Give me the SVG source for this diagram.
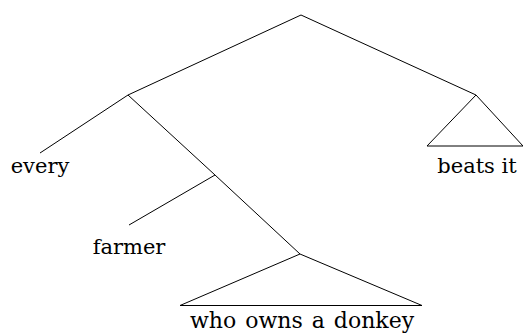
<svg xmlns="http://www.w3.org/2000/svg" width="523" height="336" viewBox="0 0 523 336">
<style>
.e{stroke:#000;stroke-width:1;fill:none}
.t{font-family:"DejaVu Serif",serif;font-size:21px;fill:#000;text-anchor:middle}
</style>
<rect width="523" height="336" fill="#fff"/>
<g id="connectors">
<line class="e" x1="301" y1="15" x2="128" y2="95"/>
<line class="e" x1="301" y1="15" x2="476" y2="95"/>
<line class="e" x1="128" y1="95" x2="40" y2="153"/>
<line class="e" x1="128" y1="95" x2="215" y2="175"/>
<line class="e" x1="215" y1="175" x2="129" y2="225"/>
<line class="e" x1="215" y1="175" x2="300" y2="254"/>
</g>
<g id="every"><text class="t" x="40" y="173">every</text></g>
<g id="beats-it">
<path class="e" d="M476,95 L427,146 L523,146 Z"/>
<text class="t" x="477" y="173">beats it</text>
</g>
<g id="farmer"><text class="t" x="129" y="254">farmer</text></g>
<g id="who-owns-a-donkey">
<path class="e" d="M300,254 L180,305.5 L422,305.5 Z"/>
<text class="t" x="302" y="328" word-spacing="2" style="font-size:22px">who owns a donkey</text>
</g>
</svg>
